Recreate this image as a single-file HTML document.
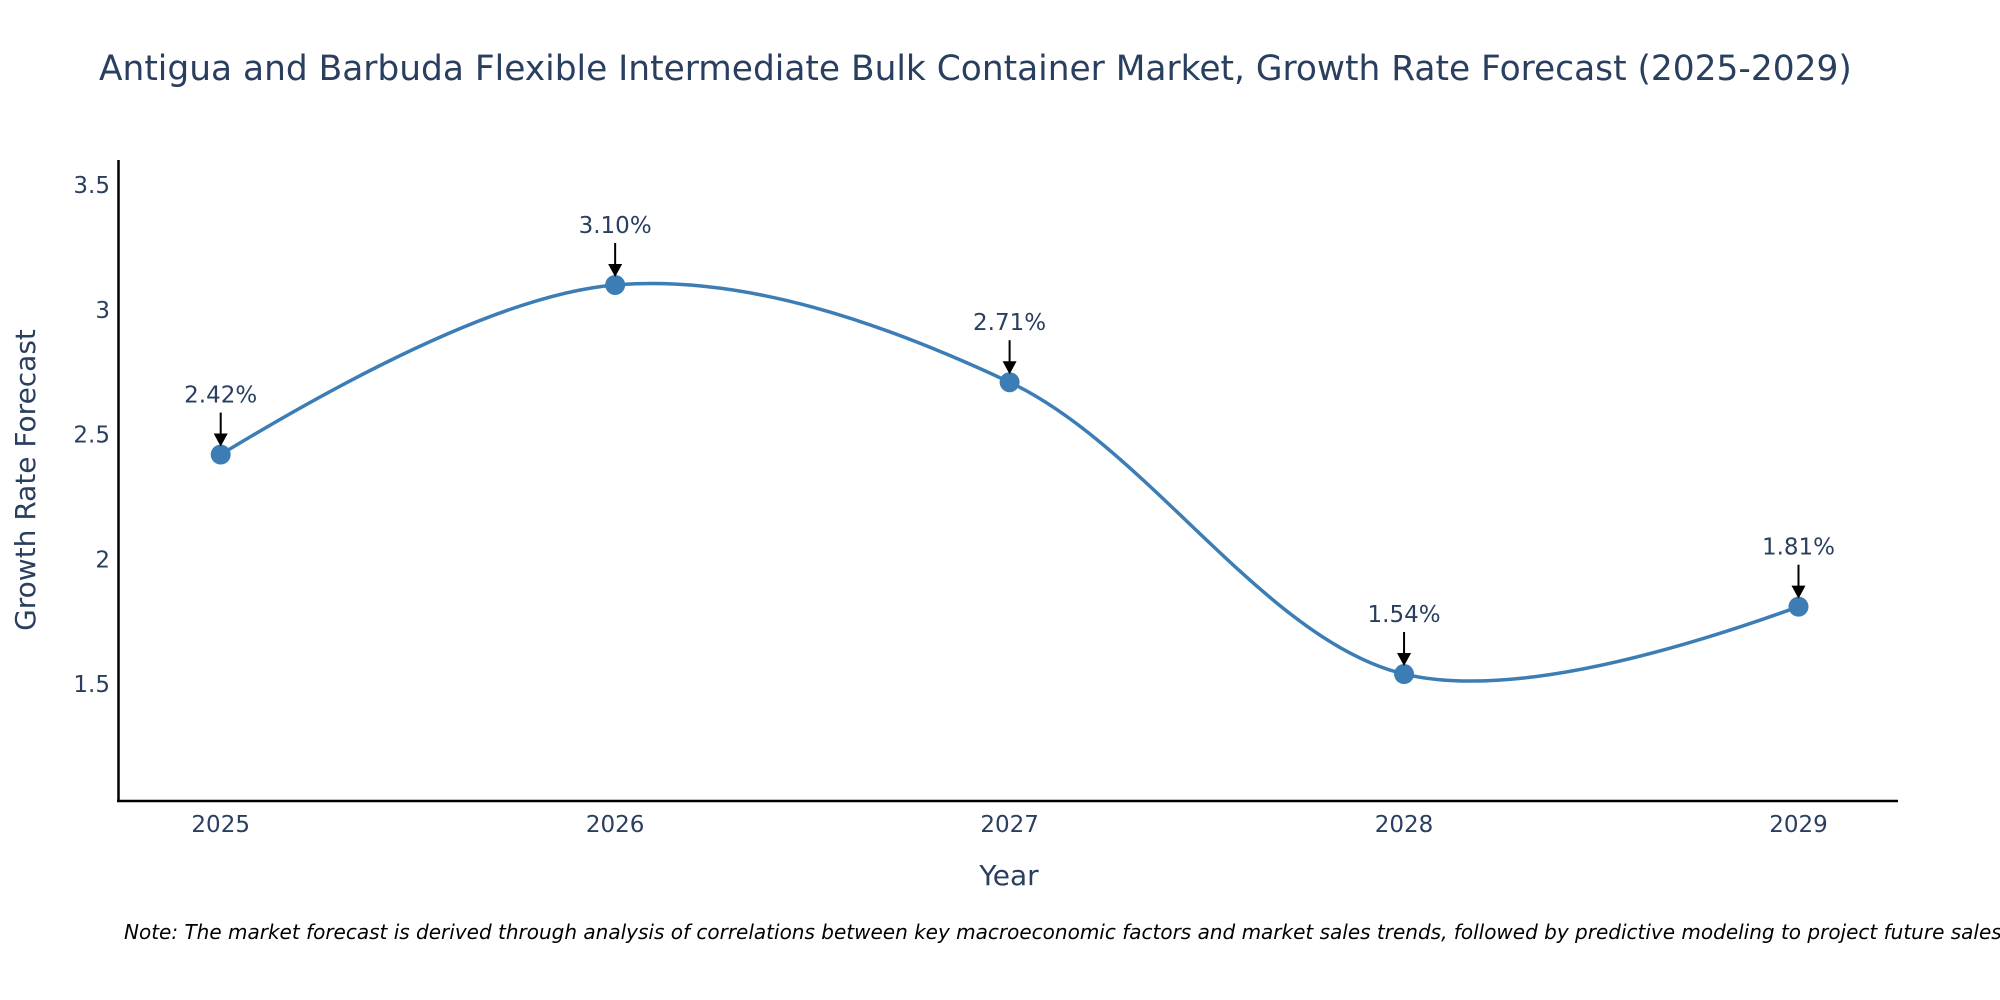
<!DOCTYPE html>
<html><head><meta charset="utf-8"><style>
body{margin:0;background:#fff;}
svg{display:block;font-family:"DejaVu Sans","Liberation Sans",sans-serif;}
</style></head><body>
<svg id="chart" width="2000" height="1000" viewBox="0 0 2000 1000">
<text x="99" y="80" font-size="34.4" fill="#2a3f5f">Antigua and Barbuda Flexible Intermediate Bulk Container Market, Growth Rate Forecast (2025-2029)</text>
<g id="yticks"></g>
<g id="xticks"></g>
<line x1="118.5" y1="160" x2="118.5" y2="802" stroke="#000" stroke-width="2.5"/>
<line x1="117" y1="801" x2="1898" y2="801" stroke="#000" stroke-width="2.5"/>
<text x="0" y="0" transform="translate(35,480) rotate(-90)" text-anchor="middle" font-size="28" fill="#2a3f5f">Growth Rate Forecast</text>
<text x="1009" y="885" text-anchor="middle" font-size="28" fill="#2a3f5f">Year</text>
<g id="series"></g>
<text x="124" y="939" font-size="20" font-style="italic" fill="#000">Note: The market forecast is derived through analysis of correlations between key macroeconomic factors and market sales trends, followed by predictive modeling to project future sales.</text>
</svg>
<script>
const years = [2025, 2026, 2027, 2028, 2029];
const growth = [2.42, 3.10, 2.71, 1.54, 1.81];
const labels = ["2.42%", "3.10%", "2.71%", "1.54%", "1.81%"];
const yTickValues = [1.5, 2, 2.5, 3, 3.5];
const yTickLabels = ["1.5", "2", "2.5", "3", "3.5"];

const NS = "http://www.w3.org/2000/svg";
function X(v){ return 220.7 + (v - 2025) * (1798.5 - 220.7) / 4; }
function Y(v){ return 684 - (v - 1.5) * 249.4; }
function mk(tag, attrs, parent){ const e = document.createElementNS(NS, tag); for (const k in attrs) e.setAttribute(k, attrs[k]); parent.appendChild(e); return e; }

const yt = document.getElementById('yticks');
yTickValues.forEach((v, i) => {
  const t = mk('text', {x: 110, y: Y(v) + 8, 'text-anchor': 'end', 'font-size': 23, fill: '#2a3f5f'}, yt);
  
  
  t.textContent = yTickLabels[i];
});
const xt = document.getElementById('xticks');
years.forEach(v => {
  const t = mk('text', {x: X(v), y: 832, 'text-anchor': 'middle', 'font-size': 23, fill: '#2a3f5f'}, xt);
  
  
  t.textContent = String(v);
});

const pts = years.map((y, i) => [X(y), Y(growth[i])]);
function tangent(p0, p1, p2, s){
  const dx1 = p0[0]-p1[0], dy1 = p0[1]-p1[1], dx2 = p2[0]-p1[0], dy2 = p2[1]-p1[1];
  const d1a = Math.pow(dx1*dx1+dy1*dy1, s/2), d2a = Math.pow(dx2*dx2+dy2*dy2, s/2);
  const a = Math.sqrt(d1a), b = Math.sqrt(d2a);
  const numx = (d2a*dx1 - d1a*dx2)*s, numy = (d2a*dy1 - d1a*dy2)*s;
  const den1 = 3*b*(a+b), den2 = 3*a*(a+b);
  return [[p1[0]+numx/den1, p1[1]+numy/den1], [p1[0]-numx/den2, p1[1]-numy/den2]];
}
const tans = [];
for (let i = 1; i < pts.length - 1; i++) tans.push(tangent(pts[i-1], pts[i], pts[i+1], 1));
const P = p => p[0].toFixed(2) + ',' + p[1].toFixed(2);
let d = 'M' + P(pts[0]) + 'Q' + P(tans[0][0]) + ' ' + P(pts[1]);
for (let i = 2; i < pts.length - 1; i++) d += 'C' + P(tans[i-2][1]) + ' ' + P(tans[i-1][0]) + ' ' + P(pts[i]);
d += 'Q' + P(tans[tans.length-1][1]) + ' ' + P(pts[pts.length-1]);

const g = document.getElementById('series');
const line = mk('path', {d: d, fill: 'none', stroke: '#3b7db4', 'stroke-width': 3.5}, g);


pts.forEach((p, i) => {
  const c = mk('circle', {cx: p[0], cy: p[1], r: 10, fill: '#3b7db4'}, g);
  
  
  const a = mk('line', {x1: p[0], y1: p[1] - 42, x2: p[0], y2: p[1] - 20, stroke: '#000', 'stroke-width': 2}, g);
  
  
  const h = mk('polygon', {points: (p[0]-7)+','+(p[1]-21)+' '+(p[0]+7)+','+(p[1]-21)+' '+p[0]+','+(p[1]-8), fill: '#000'}, g);
  
  
  const t = mk('text', {x: p[0], y: p[1] - 52, 'text-anchor': 'middle', 'font-size': 23, fill: '#2a3f5f'}, g);
  
  
  t.textContent = labels[i];
});
</script>
</body></html>
